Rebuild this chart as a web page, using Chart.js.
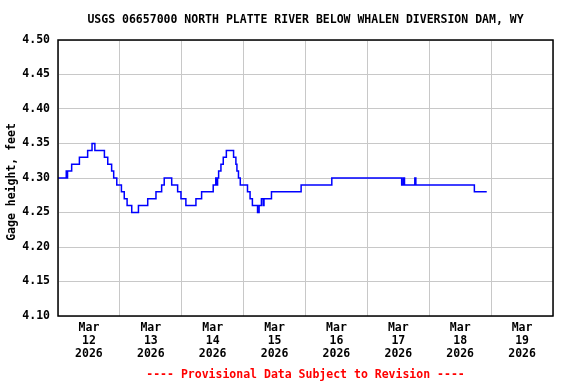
<!DOCTYPE html>
<html lang="en">
<head>
    <meta charset="UTF-8">
    <title>USGS 06657000 Gage height</title>
    <script src="https://cdn.jsdelivr.net/npm/chart.js"></script>
    <style>
        body { margin: 0; padding: 0; background: #fff; }
        canvas { display: block; }
    </style>
</head>
<body>
    <canvas id="gageChart" width="576" height="384"></canvas>

    <script>
        // hours since Mar 12 2026 00:00, gage height (ft) from that time on
        const hours = [0, 3.2, 3.5, 3.7, 5.3, 8.3, 11.5, 13.2, 14.3, 18.0, 19.3, 20.8, 21.6, 22.8,
            24.6, 25.7, 26.8, 28.6, 31.2, 34.8, 38.0, 40.2, 41.2, 44.1, 46.4, 47.7, 49.6,
            53.5, 55.7, 60.2, 61.2, 61.6, 61.9, 62.3, 63.2, 64.1, 65.3, 68.1, 69.0, 69.4,
            70.0, 70.7, 73.5, 74.5, 75.4, 77.4, 78.0, 78.9, 79.6, 79.9, 82.8, 94.3, 106.2,
            133.3, 133.9, 134.4, 138.4, 138.8, 161.5, 166.3];
        const gageHeight = [4.30, 4.31, 4.30, 4.31, 4.32, 4.33, 4.34, 4.35, 4.34, 4.33, 4.32, 4.31, 4.30, 4.29,
            4.28, 4.27, 4.26, 4.25, 4.26, 4.27, 4.28, 4.29, 4.30, 4.29, 4.28, 4.27, 4.26,
            4.27, 4.28, 4.29, 4.30, 4.29, 4.30, 4.31, 4.32, 4.33, 4.34, 4.33, 4.32, 4.31,
            4.30, 4.29, 4.28, 4.27, 4.26, 4.25, 4.26, 4.27, 4.26, 4.27, 4.28, 4.29, 4.30,
            4.29, 4.30, 4.29, 4.30, 4.29, 4.28, 4.28];

        const dayLabels = ['12', '13', '14', '15', '16', '17', '18', '19'];
        const monthLabel = 'Mar';
        const yearLabel = '2026';

        const titleText = 'USGS 06657000 NORTH PLATTE RIVER BELOW WHALEN DIVERSION DAM, WY';
        const yAxisText = 'Gage height, feet';
        const footerText = '---- Provisional Data Subject to Revision ----';

        const FONT = '"DejaVu Sans Mono", "Liberation Mono", monospace';

        const points = hours.map((h, i) => ({ x: h, y: gageHeight[i] }));

        // frame + title/footer centred on the plot area
        const usgsDecor = {
            id: 'usgsDecor',
            afterDraw(chart) {
                const { ctx, chartArea: a } = chart;
                const cx = (a.left + a.right) / 2;
                ctx.save();
                ctx.strokeStyle = '#000';
                ctx.lineWidth = 1.5;
                ctx.strokeRect(a.left, a.top, a.right - a.left, a.bottom - a.top);

                ctx.textAlign = 'center';
                ctx.textBaseline = 'middle';
                ctx.font = 'bold 11.5px ' + FONT;
                ctx.fillStyle = '#000';
                ctx.fillText(titleText, cx, 20);

                ctx.fillStyle = '#ff0000';
                ctx.fillText(footerText, cx, 375);

                ctx.fillStyle = '#000';
                ctx.translate(12, (a.top + a.bottom) / 2 + 4);
                ctx.rotate(-Math.PI / 2);
                ctx.fillText(yAxisText, 0, 0);
                ctx.restore();
            }
        };

        new Chart(document.getElementById('gageChart'), {
            type: 'line',
            data: {
                datasets: [{
                    data: points,
                    borderColor: '#0000ff',
                    borderWidth: 1.5,
                    stepped: true,
                    pointRadius: 0,
                    fill: false
                }]
            },
            options: {
                responsive: false,
                animation: false,
                devicePixelRatio: 1,
                layout: { padding: { top: 40, right: 23, left: 0, bottom: 0 } },
                plugins: {
                    legend: { display: false },
                    title: { display: false },
                    tooltip: { enabled: false }
                },
                scales: {
                    x: {
                        type: 'linear',
                        min: 0,
                        max: 192,
                        afterFit: (scale) => { scale.height = 68; },
                        grid: {
                            drawTicks: false,
                            color: (c) => (c.tick && c.tick.value % 24 === 0) ? '#c8c8c8' : 'rgba(0,0,0,0)',
                            lineWidth: 1
                        },
                        border: { display: false },
                        ticks: {
                            stepSize: 12,
                            maxTicksLimit: 30,
                            autoSkip: false,
                            maxRotation: 0,
                            padding: 6,
                            color: '#000',
                            font: { family: FONT, size: 11.5, weight: 'bold', lineHeight: '13px' },
                            callback: (value) => {
                                if (value % 24 !== 12) return '';
                                const i = (value - 12) / 24;
                                return [monthLabel, dayLabels[i], yearLabel];
                            }
                        }
                    },
                    y: {
                        min: 4.10,
                        max: 4.50,
                        afterFit: (scale) => { scale.width = 58; },
                        grid: { drawTicks: false, color: '#c8c8c8', lineWidth: 1 },
                        border: { display: false },
                        ticks: {
                            stepSize: 0.05,
                            padding: 8,
                            color: '#000',
                            font: { family: FONT, size: 11.5, weight: 'bold' },
                            callback: (value) => value.toFixed(2)
                        }
                    }
                }
            },
            plugins: [usgsDecor]
        });
    </script>
</body>
</html>
